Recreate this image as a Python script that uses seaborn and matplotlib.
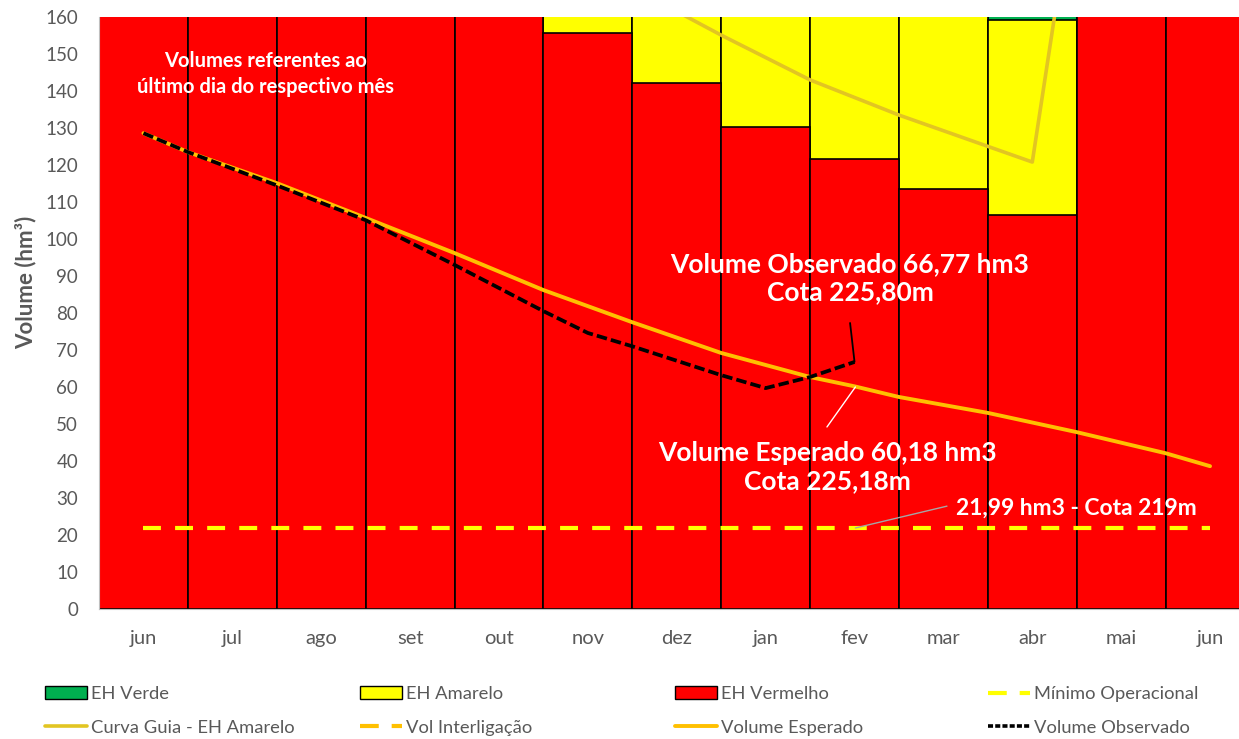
import matplotlib
matplotlib.use("Agg")
import matplotlib.pyplot as plt
from matplotlib.patches import Patch
from matplotlib.lines import Line2D
import pandas as pd
import seaborn as sns

# -----------------------------
# dados
# -----------------------------
meses = ["jun", "jul", "ago", "set", "out", "nov", "dez", "jan", "fev", "mar", "abr", "mai", "jun"]
chaves = [f"{m}_{i}" for i, m in enumerate(meses)]  # "jun" aparece duas vezes

eh_vermelho = [175, 175, 175, 175, 175, 155.8, 142.1, 130.4, 121.5, 113.5, 106.5, 175, 175]
eh_amarelo = [0, 0, 0, 0, 0, 20, 30, 40, 50, 55, 52.7, 0, 0]
eh_verde = [0, 0, 0, 0, 0, 0, 0, 0, 0, 0, 15, 0, 0]

# posição = índice do mês (0 = jun, 12 = jun seguinte)
esperado_x = [0, 0.5, 1.5, 2.5, 3.5, 4.5, 5.5, 6.5, 7.5, 8.0, 8.5, 9.5, 10.5, 11.5, 12]
esperado_y = [128.6, 123.5, 115.1, 105.7, 96.2, 86.2, 77.5, 69.2, 62.7, 60.18, 57.3, 53.0, 47.8, 42.1, 38.6]

observado_x = [0, 0.5, 1.5, 2.5, 3.5, 4.5, 5.0, 5.5, 6.5, 7.0, 7.5, 8.0]
observado_y = [128.6, 123.5, 114.5, 105.1, 93.0, 80.5, 74.6, 71.0, 63.2, 59.7, 62.7, 66.77]

curva_guia_x = [6.0, 6.5, 7.5, 8.5, 10.0, 10.3]
curva_guia_y = [161.5, 155.1, 143.0, 133.5, 120.8, 168.0]

minimo_operacional = 21.99

VERMELHO = "#FF0000"
AMARELO = "#FFFF00"
VERDE = "#00B050"
LARANJA = "#FFC000"
GUIA = "#E2C522"
CINZA = "#595959"

sns.set_style("white")
plt.rcParams["font.family"] = ["Lato", "DejaVu Sans"]

df = pd.DataFrame({
    "mes": chaves,
    "vermelho": eh_vermelho,
    "amarelo": [r + a for r, a in zip(eh_vermelho, eh_amarelo)],
    "verde": [r + a + v for r, a, v in zip(eh_vermelho, eh_amarelo, eh_verde)],
})

fig = plt.figure(figsize=(12.39, 7.39), dpi=100)
ax = fig.add_axes([99 / 1239, 130 / 739, 1155.5 / 1239, 592 / 739])

# barras empilhadas (sobrepostas de trás para frente)
for col, cor in [("verde", VERDE), ("amarelo", AMARELO), ("vermelho", VERMELHO)]:
    sns.barplot(data=df, x="mes", y=col, order=chaves, color=cor, saturation=1,
                width=1, edgecolor="black", linewidth=1.2, errorbar=None, ax=ax)

ax.plot(curva_guia_x, curva_guia_y, color=GUIA, lw=2.6, zorder=5)
ax.plot([0, 12], [minimo_operacional] * 2, color=AMARELO, lw=3,
        linestyle=(0, (4.3, 3.4)), zorder=5)
ax.plot(esperado_x, esperado_y, color=LARANJA, lw=2.8, zorder=6)
ax.plot(observado_x, observado_y, color="black", lw=2.7,
        linestyle=(0, (2.8, 1.1)), zorder=7)

# linhas de chamada
ax.plot([8.0, 7.95], [66.8, 77.3], color="black", lw=1.3, zorder=8)
ax.plot([8.01, 7.69], [60.0, 49.2], color="white", lw=1.0, zorder=8)
ax.plot([8.01, 9.04], [21.9, 27.8], color="#A6A6A6", lw=1.0, zorder=8)

txt = dict(color="white", fontweight="bold", ha="center", va="center", zorder=9)
ax.text(1.37, 144.6, "Volumes referentes ao\núltimo dia do respectivo mês",
        fontsize=14.5, linespacing=1.32, **txt)
ax.text(7.95, 89.5, "Volume Observado 66,77 hm3\nCota 225,80m",
        fontsize=19, linespacing=1.18, **txt)
ax.text(7.7, 38.4, "Volume Esperado 60,18 hm3\nCota 225,18m",
        fontsize=19, linespacing=1.18, **txt)
ax.text(10.5, 27.3, "21,99 hm3 - Cota 219m", fontsize=16.5, **txt)

ax.set_ylim(0, 160)
ax.set_xlim(-0.5, 12.5)
ax.set_yticks(range(0, 161, 10))
ax.set_xticks(range(len(meses)))
ax.set_xticklabels(meses)
ax.tick_params(axis="y", length=0, pad=15, labelsize=13.5, labelcolor=CINZA)
ax.tick_params(axis="x", length=0, pad=15, labelsize=14.5, labelcolor=CINZA)
ax.set_xlabel("")
ax.set_ylabel("Volume (hm³)", fontsize=16, fontweight="bold", color=CINZA)
ax.yaxis.set_label_coords(-0.054, 0.551)
for s in ["top", "right"]:
    ax.spines[s].set_visible(False)
for s in ["left", "bottom"]:
    ax.spines[s].set_color("#BFBFBF")
    ax.spines[s].set_linewidth(0.8)

# legenda: 4 colunas independentes
tracejado = (0, (4.5, 3.1))
colunas = [
    [Patch(facecolor=VERDE, edgecolor="black", lw=1, label="EH Verde"),
     Line2D([], [], color=GUIA, lw=2.6, label="Curva Guia - EH Amarelo")],
    [Patch(facecolor=AMARELO, edgecolor="black", lw=1, label="EH Amarelo"),
     Line2D([], [], color=LARANJA, lw=3, linestyle=tracejado, label="Vol Interligação")],
    [Patch(facecolor=VERMELHO, edgecolor="black", lw=1, label="EH Vermelho"),
     Line2D([], [], color=LARANJA, lw=2.8, label="Volume Esperado")],
    [Line2D([], [], color=AMARELO, lw=3, linestyle=tracejado, label="Mínimo Operacional"),
     Line2D([], [], color="black", lw=2.6, linestyle=(0, (1.4, 0.6)), label="Volume Observado")],
]
x_cols = [45, 360, 675, 988]
fs_leg = 13.2
for xc, handles in zip(x_cols, colunas):
    leg = fig.legend(handles=handles, loc="center left",
                     bbox_to_anchor=(xc / 1239, 1 - 711 / 739),
                     bbox_transform=fig.transFigure, frameon=False,
                     fontsize=fs_leg, handlelength=42 / (fs_leg * 100 / 72),
                     handletextpad=0.22, labelspacing=0.95, borderpad=0,
                     borderaxespad=0)
    for t in leg.get_texts():
        t.set_color(CINZA)

fig.savefig("out.png", dpi=100)
